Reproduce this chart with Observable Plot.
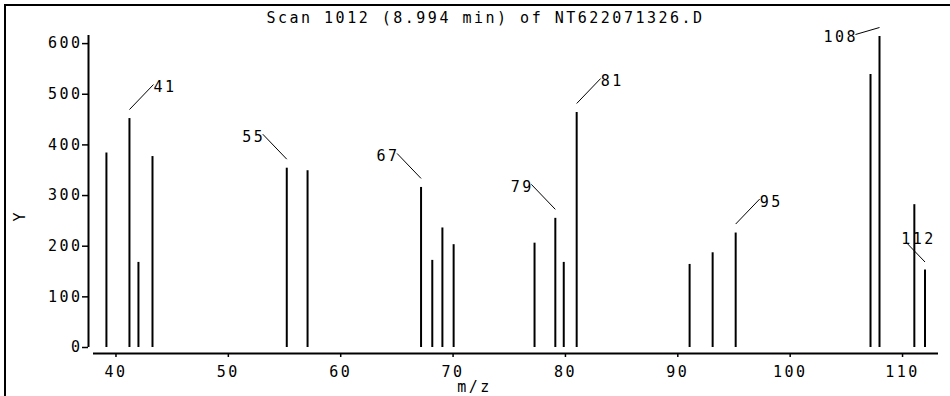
<!DOCTYPE html>
<html>
<head>
<meta charset="utf-8">
<script src="https://cdn.jsdelivr.net/npm/d3@7"></script>
<script src="https://cdn.jsdelivr.net/npm/@observablehq/plot@0.6"></script>
<style>
  html, body { margin: 0; padding: 0; background: #fff; overflow: hidden; }
  #wrap { position: relative; width: 950px; height: 396px; }
  #frame { position: absolute; left: 4px; top: 4px; width: 980px; height: 420px;
           border-top: 2px solid #000; border-left: 2px solid #000; pointer-events: none; }
  #chart { position: absolute; left: 0; top: 0; }
</style>
</head>
<body>
<div id="wrap"><div id="chart"></div><div id="frame"></div></div>
<script>
// ---- data ----
const title = "Scan 1012 (8.994 min) of NT622071326.D";
const xLabel = "m/z";
const yLabel = "Y";
const mz = [39.15, 41.2, 42.0, 43.25, 55.2, 57.05, 67.15, 68.15, 69.05, 70.05,
            77.25, 79.1, 79.85, 81.0, 91.05, 93.1, 95.15, 107.15, 107.95, 111.05, 112.0];
const intensity = [384, 452, 168, 377, 354, 349, 316, 172, 236, 203,
                   206, 255, 168, 464, 164, 187, 226, 539, 614, 282, 153];
const labelPeaks = [41, 55, 67, 79, 81, 95, 108, 112];
const labelSide = ["right", "left", "left", "left", "right", "right", "left", "left"];
const xTicks = [40, 50, 60, 70, 80, 90, 100, 110];
const yTicks = [0, 100, 200, 300, 400, 500, 600];

// ---- scale setup ----
const W = 950, H = 396;
const xDomain = [38, 113.2], xRange = [93, 938];
const yDomain = [0, 616], yRange = [347, 35];
const kx = (xRange[1] - xRange[0]) / (xDomain[1] - xDomain[0]);
const ky = (yRange[0] - yRange[1]) / (yDomain[1] - yDomain[0]);

const peaks = mz.map((m, i) => ({mz: m, intensity: intensity[i]}));

// leader lines, built from peak positions (pixel offsets converted to data units)
const yLabelMax = (yRange[0] - 34) / ky;
const leaders = labelPeaks.map((lp, i) => {
  const p = peaks.find(d => Math.round(d.mz) === lp);
  const px = xRange[0] + (p.mz - xDomain[0]) * kx;
  const edge = px > W - 50;
  const s = edge ? 0.78 : 1;
  const sign = labelSide[i] === "right" ? 1 : -1;
  const y1 = p.intensity + (edge ? 8 : 9) / ky;
  const y2 = Math.min(y1 + 25 * s / ky, yLabelMax);
  const x2 = p.mz + sign * 24 * s / kx;
  return {label: String(lp), x1: p.mz, y1, x2, y2,
          anchor: edge ? "edge" : (sign > 0 ? "start" : "end")};
});

const plot = Plot.plot({
  width: W, height: H,
  marginLeft: 88, marginRight: 12, marginTop: 35, marginBottom: 43,
  style: {fontFamily: "'DejaVu Sans Mono', monospace", fontSize: "15px",
          letterSpacing: "2.5px", background: "transparent", color: "#000", overflow: "visible"},
  x: {domain: xDomain, range: xRange},
  y: {domain: yDomain, range: yRange},
  marks: [
    Plot.axisY({ticks: yTicks, tickSize: 6, tickPadding: 0, label: null, strokeWidth: 1.5}),
    Plot.axisX({ticks: xTicks, tickSize: 4, tickPadding: 9, label: null, strokeWidth: 1.5}),
    Plot.ruleX([xDomain[0]], {y1: 0, y2: yDomain[1], dx: -5, strokeWidth: 2}),
    Plot.ruleY([0], {x1: xDomain[0], x2: xDomain[1], dy: 6, strokeWidth: 2}),
    Plot.ruleX(peaks, {x: "mz", y1: 0, y2: "intensity", strokeWidth: 2, stroke: "#000"}),
    Plot.link(leaders, {x1: "x1", y1: "y1", x2: "x2", y2: "y2", stroke: "#000", strokeWidth: 1}),
    Plot.text(leaders.filter(d => d.anchor === "start"), {x: "x2", y: "y2", text: "label",
      textAnchor: "start", lineAnchor: "middle", dy: 3, fill: "#000"}),
    Plot.text(leaders.filter(d => d.anchor === "end"), {x: "x2", y: "y2", text: "label",
      textAnchor: "end", lineAnchor: "middle", dy: 3, dx: 2.5, fill: "#000"}),
    Plot.text(leaders.filter(d => d.anchor === "edge"), {x: "x2", y: "y2", text: "label",
      textAnchor: "start", lineAnchor: "middle", dy: -3, dx: -5, fill: "#000"}),
    Plot.text([title], {frameAnchor: "top", dy: -17, dx: -28, lineAnchor: "middle", fill: "#000"}),
    Plot.text([xLabel], {frameAnchor: "bottom", dy: 34, dx: -39, lineAnchor: "middle", fill: "#000"}),
    Plot.text([yLabel], {frameAnchor: "left", dx: -68, dy: 27, rotate: -90, lineAnchor: "middle", fill: "#000"})
  ]
});
document.getElementById("chart").appendChild(plot);
</script>
</body>
</html>
